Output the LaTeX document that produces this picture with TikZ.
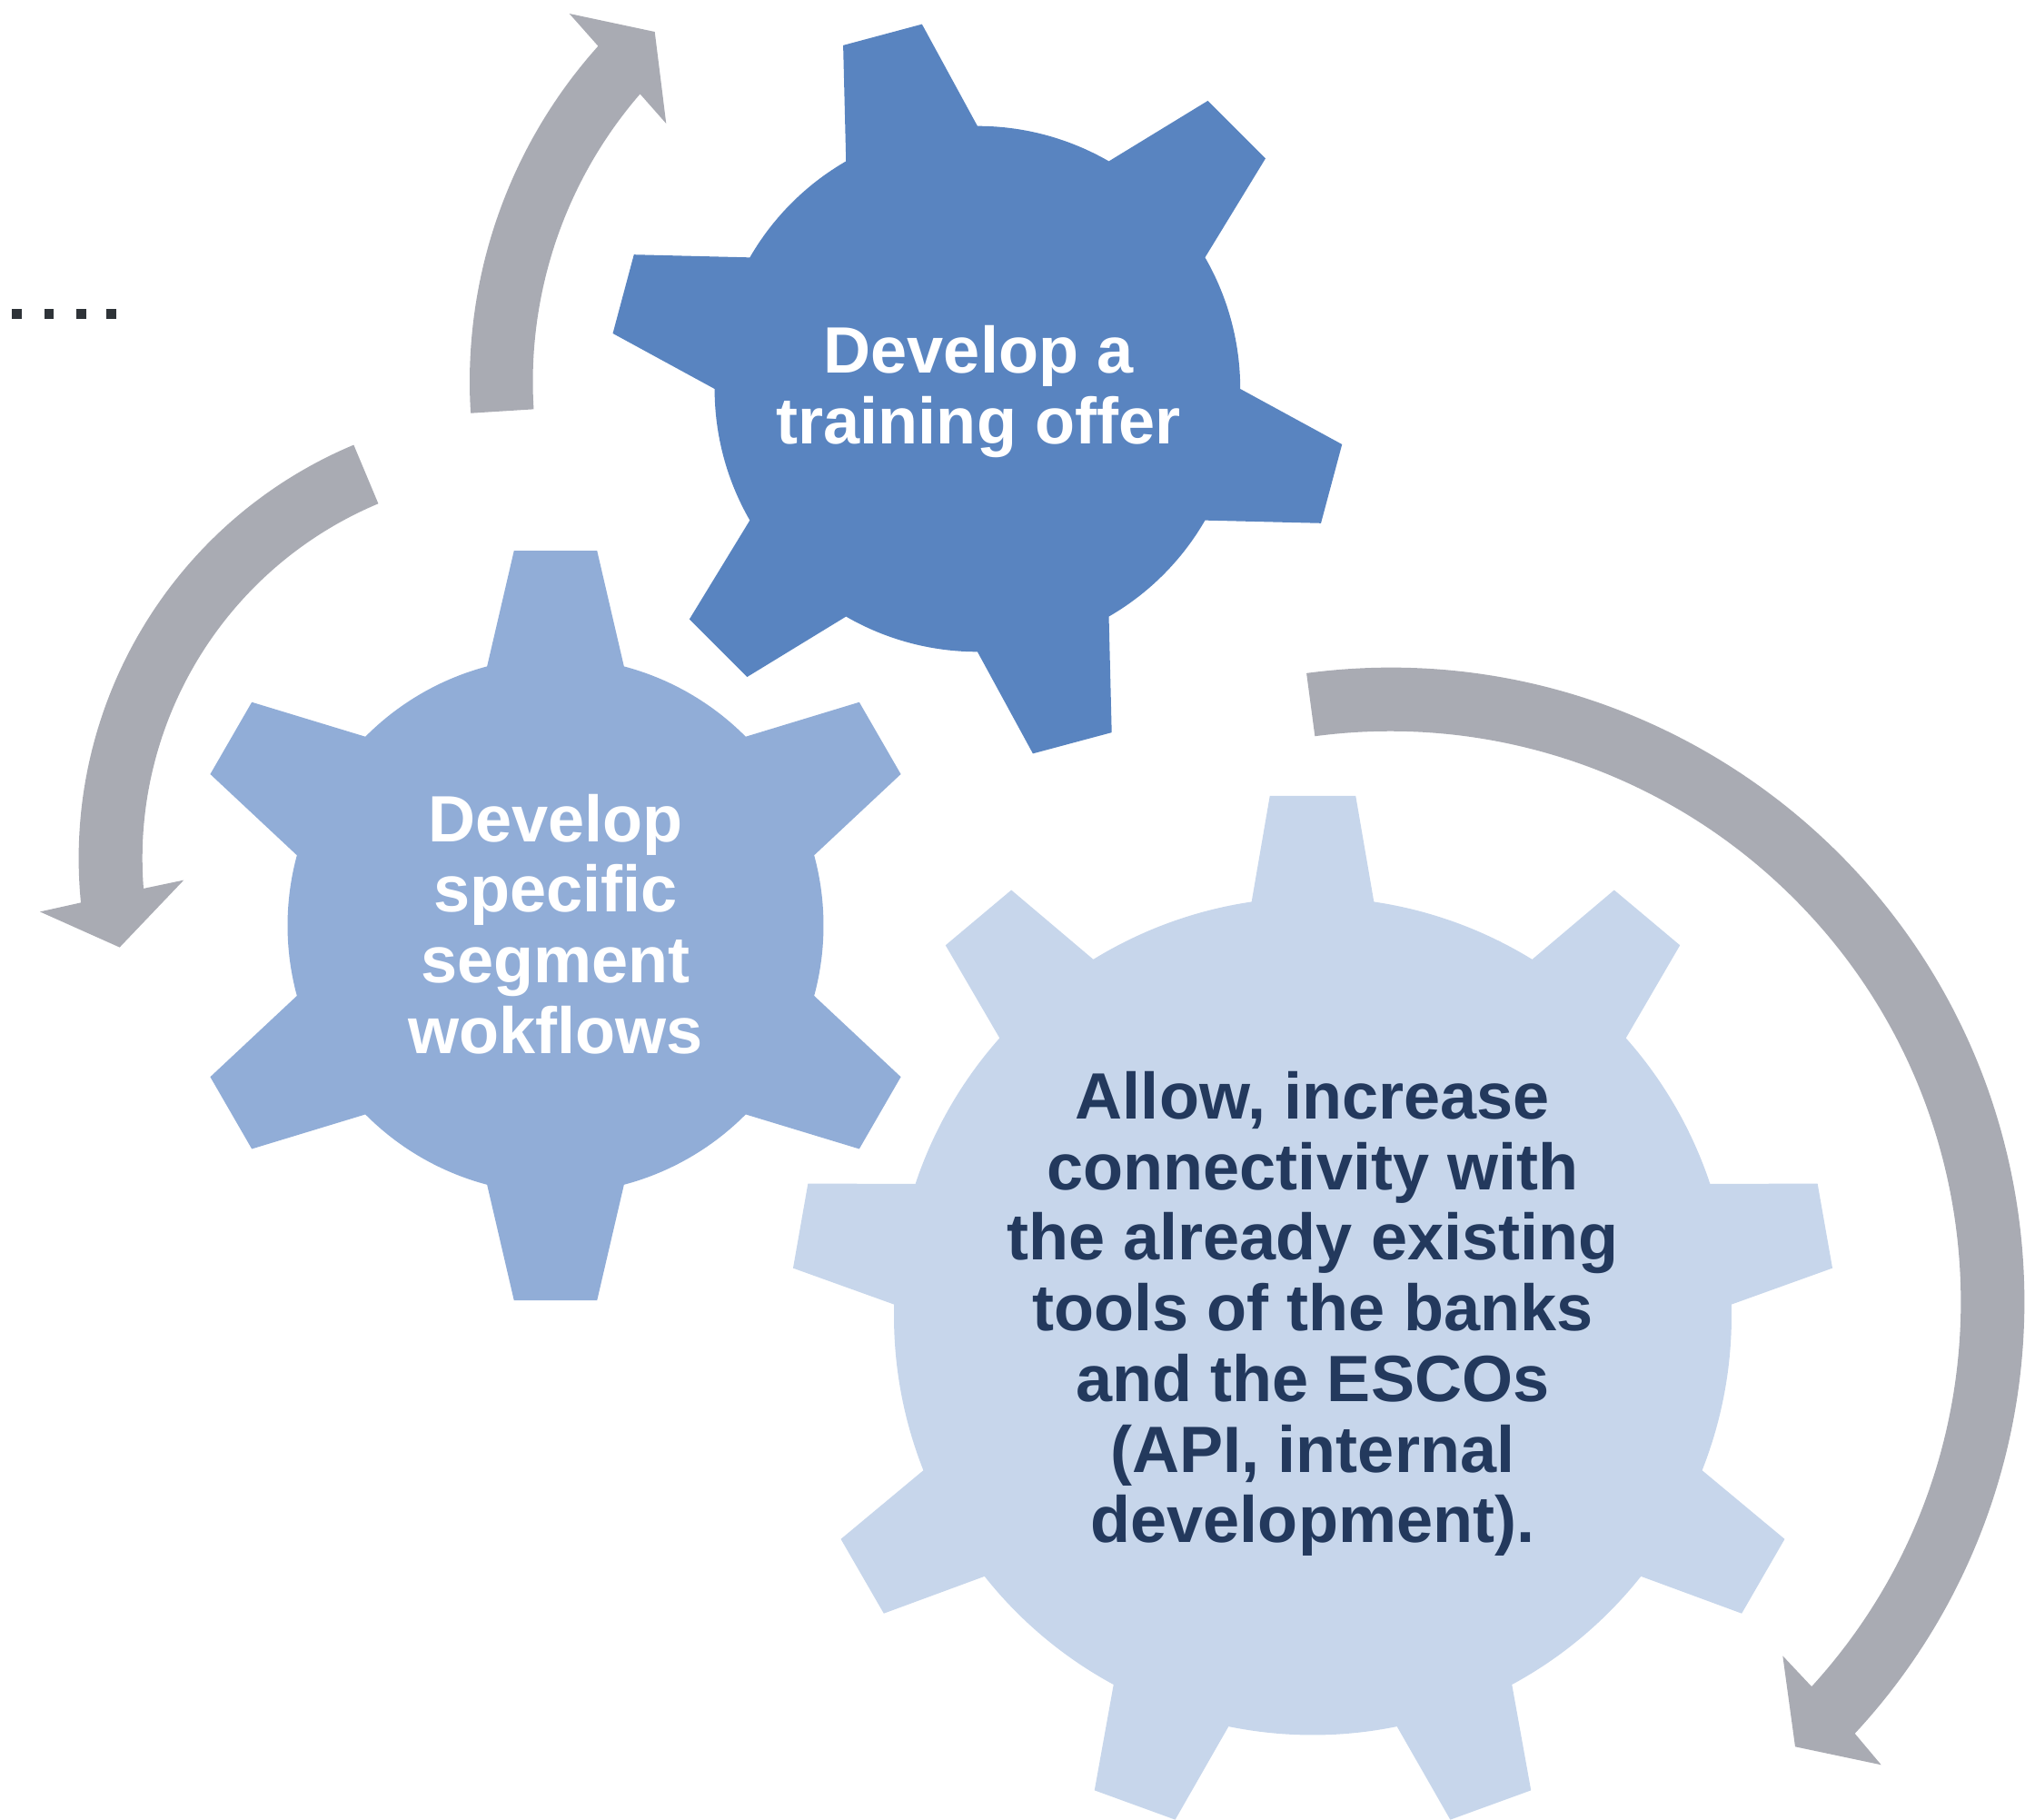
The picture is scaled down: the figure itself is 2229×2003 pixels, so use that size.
\documentclass[tikz,border=0pt]{standalone}
\usepackage{fontspec}
\setmainfont{Liberation Sans}
\usetikzlibrary{calc}
\definecolor{gearA}{RGB}{89,132,192}
\definecolor{gearB}{RGB}{145,173,215}
\definecolor{gearC}{RGB}{199,214,235}
\definecolor{arrowgray}{RGB}{169,171,179}
\definecolor{navytext}{RGB}{35,57,93}
\definecolor{dotgray}{RGB}{46,51,56}
% #1 center name, #2 teeth, #3 phase, #4 Rin, #5 Rout, #6 half base angle, #7 half tip angle, #8 colour
\newcommand{\drawgear}[8]{%
  \fill[#8] ($(#1)+({#3-#6}:#4)$)
    \foreach \k in {1,...,#2}{
      -- ($(#1)+({#3+(\k-1)*360/#2-#7}:#5)$)
      -- ($(#1)+({#3+(\k-1)*360/#2+#7}:#5)$)
      -- ($(#1)+({#3+(\k-1)*360/#2+#6}:#4)$)
      arc[start angle={#3+(\k-1)*360/#2+#6}, end angle={#3+\k*360/#2-#6}, radius=#4]
    } -- cycle;
}
\tikzset{
  gtext/.style={align=center, inner sep=0pt,
    font=\fontsize{20.5pt}{22.1pt}\selectfont\bfseries},
  arrowshape/.style={fill=arrowgray},
  dotsq/.style={fill=dotgray}
}
\begin{document}
\begin{tikzpicture}[x=0.01cm, y=0.01cm]
\useasboundingbox (0,0) rectangle (2229,-2003);
% centres
\coordinate (cA) at (1070,-420);
\coordinate (cB) at (580.2,-944.8);
\coordinate (cC) at (1530.4,-1432.7);
\coordinate (g1) at (1075.9,-428);
\coordinate (g2) at (611.5,-1018.6);
\coordinate (g3) at (1445,-1448.5);
% dots
\fill[dotsq] (13.3,-340) rectangle (23.7,-350.7);
\fill[dotsq] (48.7,-340) rectangle (59.3,-350.7);
\fill[dotsq] (84.3,-340) rectangle (94.7,-350.7);
\fill[dotsq] (117.3,-340) rectangle (127.7,-350.7);
% arrows
\fill[arrowshape] ($(cA)+(183.6:553)$) arc[start angle=183.6, end angle=138.1, radius=553]
  -- (626.7,-15) -- (720.7,-35) -- (733.3,-136)
  -- ($(cA)+(139.1:483.5)$) arc[start angle=139.1, end angle=183.6, radius=483.5] -- cycle;
\fill[arrowshape] ($(cB)+(112.75:493.6)$) arc[start angle=112.75, end angle=185.65, radius=493.6]
  -- (44,-1003.4) -- (131.7,-1042.6) -- (202.3,-968.6)
  -- ($(cB)+(184.48:423.5)$) arc[start angle=184.48, end angle=112.75, radius=423.5] -- cycle;
\fill[arrowshape] ($(cC)+(97.6:698)$) arc[start angle=97.6, end angle=-42.9, radius=698]
  -- (2070.7,-1942.3) -- (1976,-1922.3) -- (1962.3,-1822.3)
  -- ($(cC)+(-42.4:628)$) arc[start angle=-42.4, end angle=97.6, radius=628] -- cycle;
% gears
\drawgear{g1}{6}{45}{289.3}{406}{15}{6.35}{gearA}
\drawgear{g2}{6}{30}{295}{415}{14.8}{6.33}{gearB}
\drawgear{g3}{9}{90}{461}{574.5}{8.4}{4.72}{gearC}
% texts
\node[gtext, text=white] (t1) at (1077,-431) {Develop a\\training offer};
\node[gtext, text=white] (t2) at (611.5,-1017) {Develop\\specific\\segment\\wokflows};
\node[gtext, text=navytext] (t3) at (1445,-1446) {Allow, increase\\connectivity with\\the already existing\\tools of the banks\\and the ESCOs\\(API, internal\\development).};
\end{tikzpicture}
\end{document}
